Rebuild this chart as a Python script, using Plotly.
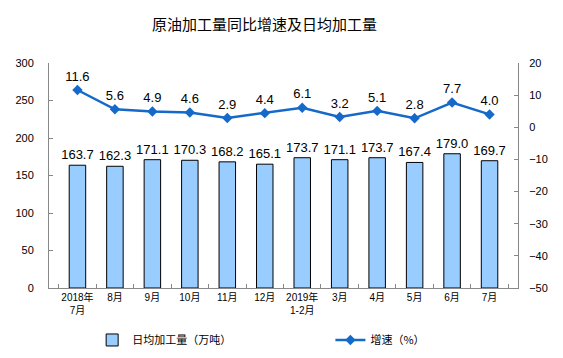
import plotly.graph_objects as go

categories = ["2018年<br>7月", "8月", "9月", "10月", "11月", "12月", "2019年<br>1-2月",
              "3月", "4月", "5月", "6月", "7月"]
daily_output = [163.7, 162.3, 171.1, 170.3, 168.2, 165.1, 173.7, 171.1, 173.7, 167.4, 179.0, 169.7]
growth = [11.6, 5.6, 4.9, 4.6, 2.9, 4.4, 6.1, 3.2, 5.1, 2.8, 7.7, 4.0]

FONT = "Liberation Sans, Arial, Noto Sans CJK SC, sans-serif"
CJK = "Noto Sans CJK SC, sans-serif"

fig = go.Figure()
fig.add_trace(go.Bar(
    x=categories, y=daily_output, name="日均加工量（万吨）", legend="legend",
    marker=dict(color="#99CCFF", line=dict(color="black", width=1)),
    text=[f"{v:.1f}" for v in daily_output], textposition="outside",
    textangle=0, constraintext="none",
    textfont=dict(size=13, color="black", family=FONT), cliponaxis=False,
))
fig.add_trace(go.Scatter(
    x=categories, y=growth, name="增速（%）", yaxis="y2", legend="legend2",
    mode="lines+markers+text",
    line=dict(color="#1469C9", width=2.5),
    marker=dict(symbol="diamond", size=8, color="#1469C9"),
    text=[f"{v:.1f}" for v in growth], textposition="top center",
    textfont=dict(size=13, color="black", family=FONT), cliponaxis=False,
))

fig.update_layout(
    width=563, height=358,
    margin=dict(l=49, r=45, t=63, b=70, autoexpand=False),
    paper_bgcolor="white", plot_bgcolor="white",
    font=dict(family=FONT, size=11, color="black"),
    title=dict(text="原油加工量同比增速及日均加工量", x=0.47, xanchor="center",
               y=0.93, yref="container", yanchor="middle",
               font=dict(size=15, family=CJK, color="black")),
    bargap=0.56,
    showlegend=True,
    legend=dict(orientation="h", x=0.092, xanchor="left", y=-0.231, yanchor="middle",
                font=dict(size=11, family=CJK)),
    legend2=dict(orientation="h", x=0.60, xanchor="left", y=-0.231, yanchor="middle",
                 font=dict(size=11, family=CJK)),
    xaxis=dict(showline=True, linecolor="#888", linewidth=1, ticks="inside", ticklen=4,
               tickcolor="#888", tickson="boundaries", tickfont=dict(size=10),
               tickangle=0, fixedrange=True),
    yaxis=dict(range=[0, 300], dtick=50, showline=True, linecolor="#888", linewidth=1,
               ticks="inside", ticklen=4, tickcolor="#888", showgrid=False, zeroline=False,
               tickfont=dict(size=11), ticklabelstandoff=12),
    yaxis2=dict(range=[-50, 20], dtick=10, overlaying="y", side="right", showline=True,
                linecolor="#888", linewidth=1, ticks="inside", ticklen=4, tickcolor="#888",
                showgrid=False, zeroline=False, tickfont=dict(size=11), ticklabelstandoff=8),
)

fig.write_html("out.html", config={"displayModeBar": False},
               post_script="document.body.style.margin='0';")
